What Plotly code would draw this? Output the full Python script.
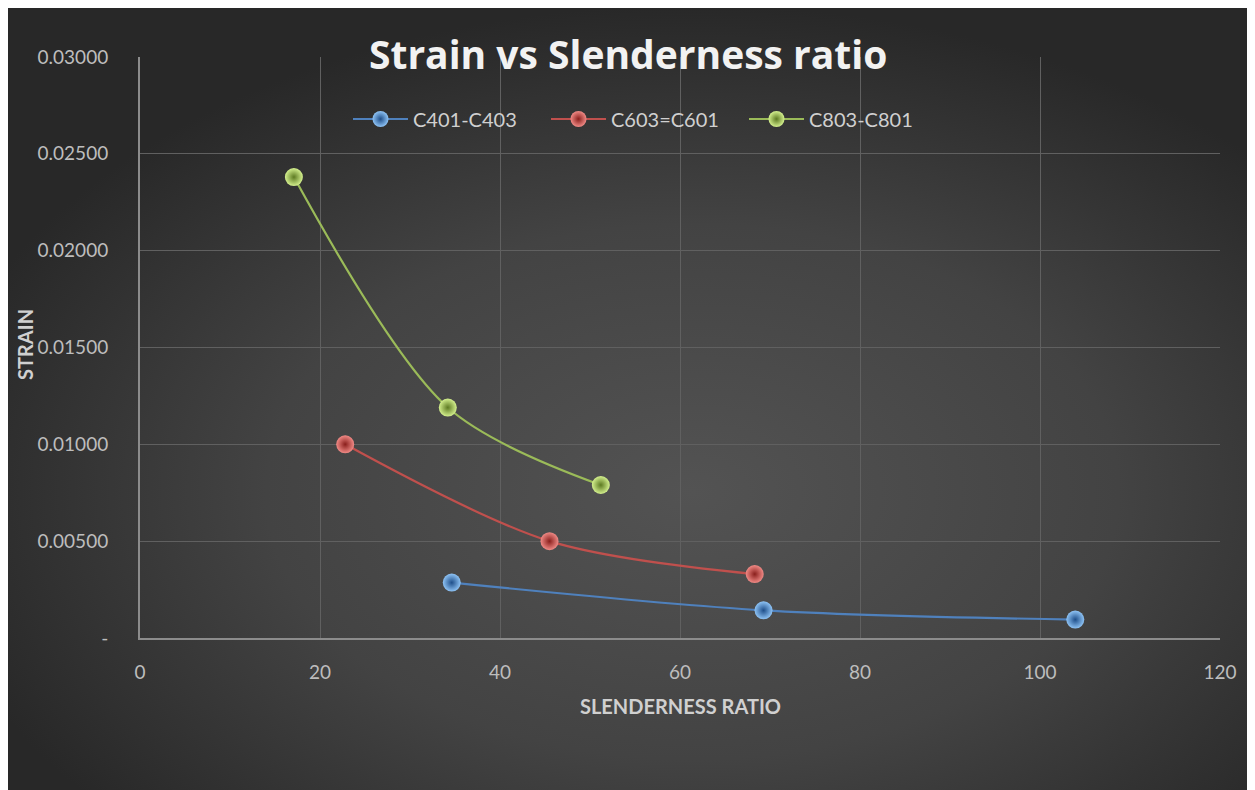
import plotly.graph_objects as go
import urllib.parse

# Data
blue_x = [34.64, 69.28, 103.92]
blue_y = [0.00286, 0.00143, 0.00095]
red_x = [22.8, 45.5, 68.3]
red_y = [0.0100, 0.0050, 0.0033]
green_x = [17.1, 34.2, 51.2]
green_y = [0.0238, 0.0119, 0.0079]

series_names = ["C401-C403", "C603=C601", "C803-C801"]
y_tickvals = [0, 0.005, 0.01, 0.015, 0.02, 0.025, 0.03]
y_ticktext = ["-", "0.00500", "0.01000", "0.01500", "0.02000", "0.02500", "0.03000"]
x_tickvals = [0, 20, 40, 60, 80, 100, 120]

OFF = 8  # page body margin
W, H = 1255 - OFF, 790 - OFF
L = 140 - OFF
R = W - (1220 - OFF)
T = 57 - OFF
B = H - (638 - OFF)
pw, ph = W - L - R, H - T - B

def px_to_paper_x(px):
    return (px - OFF - L) / pw

def py_to_paper_y(py):
    return (H - B - (py - OFF)) / ph

svg = (
    "<svg xmlns='http://www.w3.org/2000/svg' width='1250' height='785' viewBox='0 0 1250 785' preserveAspectRatio='none'>"
    "<defs><radialGradient id='g' cx='0.55' cy='0.62' r='0.62' fx='0.55' fy='0.62'>"
    "<stop offset='0' stop-color='#535353'/>"
    "<stop offset='0.55' stop-color='#434343'/>"
    "<stop offset='1' stop-color='#282828'/>"
    "</radialGradient></defs>"
    "<rect width='1250' height='785' fill='url(#g)'/></svg>"
)
svg_uri = "data:image/svg+xml;charset=utf-8," + urllib.parse.quote(svg)

fig = go.Figure()

styles = [
    (blue_x, blue_y, "#4f81bd", "#8ec3f5", "#1f4f8a"),
    (red_x, red_y, "#c0504d", "#f08a86", "#8a1f1c"),
    (green_x, green_y, "#9bbb59", "#d4f08e", "#5d7a22"),
]
for (xs, ys, lc, mc, gc), name in zip(styles, series_names):
    fig.add_trace(go.Scatter(
        x=xs, y=ys, name=name, mode="lines+markers",
        line=dict(color=lc, width=2.2, shape="spline", smoothing=0.9),
        marker=dict(size=18, color=mc, gradient=dict(type="radial", color=gc),
                    line=dict(width=0)),
    ))

fig.update_layout(
    width=W, height=H,
    margin=dict(l=L, r=R, t=T, b=B, autoexpand=False),
    paper_bgcolor="white",
    plot_bgcolor="rgba(0,0,0,0)",
    font=dict(family="Lato, Open Sans, sans-serif", color="#c8c8c8"),
    showlegend=True,
    legend=dict(orientation="h", x=px_to_paper_x(645), xanchor="center", y=py_to_paper_y(119), yanchor="middle",
                font=dict(size=20, color="#d0d0d0"), bgcolor="rgba(0,0,0,0)",
                itemwidth=55, entrywidth=128, tracegroupgap=0),
    images=[dict(source=svg_uri, xref="paper", yref="paper",
                 x=px_to_paper_x(5), y=py_to_paper_y(5),
                 sizex=1250 / pw, sizey=785 / ph,
                 xanchor="left", yanchor="top", sizing="stretch", layer="below")],
    xaxis=dict(range=[0, 120], tickvals=x_tickvals, showgrid=True, gridcolor="#606060", gridwidth=1,
               zeroline=False, showline=True, linecolor="#8c8c8c", linewidth=2,
               tickfont=dict(size=19, color="#bdbdbd"), ticks="", ticklabelstandoff=16),
    yaxis=dict(range=[0, 0.03], tickvals=y_tickvals, ticktext=y_ticktext, showgrid=True,
               gridcolor="#606060", gridwidth=1, zeroline=False, showline=True,
               linecolor="#8c8c8c", linewidth=2,
               tickfont=dict(size=19, color="#bdbdbd"), ticks="", ticklabelstandoff=26),
    annotations=[
        dict(text="<b>Strain vs Slenderness ratio</b>", xref="paper", yref="paper",
             x=px_to_paper_x(628), y=py_to_paper_y(54), xanchor="center", yanchor="middle",
             showarrow=False, font=dict(size=39, color="#f2f2f2", family="Open Sans, Lato, sans-serif")),
        dict(text="<b>SLENDERNESS RATIO</b>", xref="paper", yref="paper",
             x=px_to_paper_x(680), y=py_to_paper_y(706), xanchor="center", yanchor="middle",
             showarrow=False, font=dict(size=20, color="#d0d0d0", family="Lato, Open Sans, sans-serif")),
        dict(text="<b>STRAIN</b>", xref="paper", yref="paper", textangle=-90,
             x=px_to_paper_x(25), y=py_to_paper_y(345), xanchor="center", yanchor="middle",
             showarrow=False, font=dict(size=20, color="#d0d0d0", family="Lato, Open Sans, sans-serif")),
    ],
)

fig.write_html("out.html")
